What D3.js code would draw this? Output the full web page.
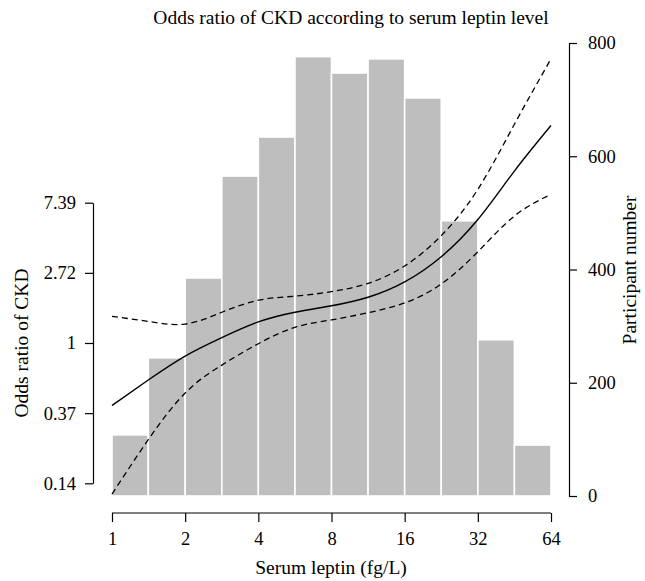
<!DOCTYPE html>
<html>
<head>
<meta charset="utf-8">
<script src="https://cdn.jsdelivr.net/npm/d3@7"></script>
<style>
  body { margin: 0; background: #fff; }
  svg text { font-family: "Liberation Serif", "DejaVu Serif", serif; fill: #000; }
</style>
</head>
<body>
<div id="chart"></div>
<script>
// histogram bins (serum leptin, log2 spaced) and participant counts
const binEdges = [1, 1.41, 2, 2.83, 4, 5.66, 8, 11.31, 16, 22.63, 32, 45.25, 64];
const counts = [108, 244, 385, 565, 634, 776, 747, 772, 703, 486, 276, 90];

// spline fit: leptin grid, odds ratio and 95% CI
const leptin = [1, 1.41, 2, 2.83, 4, 5.66, 8, 11.31, 16, 22.63, 32, 45.25, 64];
const orFit = [0.41, 0.59, 0.83, 1.08, 1.35, 1.55, 1.70, 1.92, 2.39, 3.42, 5.81, 11.6, 22.2];
const orUpper = [1.46, 1.36, 1.31, 1.55, 1.84, 1.95, 2.08, 2.34, 3.00, 4.62, 8.94, 22.6, 57.4];
const orLower = [0.116, 0.252, 0.49, 0.73, 0.99, 1.25, 1.39, 1.54, 1.77, 2.32, 3.67, 6.11, 8.33];

const xTicks = [1, 2, 4, 8, 16, 32, 64];
const orTicks = [Math.exp(-2), Math.exp(-1), 1, Math.exp(1), Math.exp(2)];
const orTickLabels = ['0.14', '0.37', '1', '2.72', '7.39'];
const countTicks = [0, 200, 400, 600, 800];

const width = 645, height = 581;

const svg = d3.select('#chart').append('svg')
    .attr('width', width)
    .attr('height', height);

const x = d3.scaleLog().base(2).domain([1, 64]).range([112, 551]);
const yOR = d3.scaleLog().domain([Math.exp(-2), Math.exp(2)]).range([483.3, 202.7]);
const yN = d3.scaleLinear().domain([0, 800]).range([496, 43]);

// bars
const bins = counts.map((c, i) => ({x0: binEdges[i], x1: binEdges[i + 1], n: c}));
svg.append('g').selectAll('rect')
    .data(bins)
    .join('rect')
    .attr('x', d => x(d.x0))
    .attr('width', d => x(d.x1) - x(d.x0))
    .attr('y', d => yN(d.n))
    .attr('height', d => yN(0) - yN(d.n))
    .attr('fill', '#bebebe')
    .attr('stroke', '#fff')
    .attr('stroke-width', 1.6);

// curves
const line = vals => d3.line()
    .x((d, i) => x(leptin[i]))
    .y(d => yOR(d))
    .curve(d3.curveNatural)(vals);

svg.append('path').attr('d', line(orUpper))
    .attr('fill', 'none').attr('stroke', '#000').attr('stroke-width', 1.3)
    .attr('stroke-dasharray', '6,4');
svg.append('path').attr('d', line(orLower))
    .attr('fill', 'none').attr('stroke', '#000').attr('stroke-width', 1.3)
    .attr('stroke-dasharray', '6,4');
svg.append('path').attr('d', line(orFit))
    .attr('fill', 'none').attr('stroke', '#000').attr('stroke-width', 1.4);

// axes
const tickFont = '18.5px';
const titleFont = '19.5px';

const xAxis = svg.append('g')
    .attr('transform', 'translate(0,513)')
    .call(d3.axisBottom(x).tickValues(xTicks).tickFormat(d3.format('d')).tickSize(9).tickSizeOuter(0));
xAxis.select('.domain').attr('d', `M${x(1)},0H${x(64)}`);

const leftAxis = svg.append('g')
    .attr('transform', 'translate(93,0)')
    .call(d3.axisLeft(yOR).tickValues(orTicks).tickFormat((d, i) => orTickLabels[i])
        .tickSize(8).tickPadding(9).tickSizeOuter(0));

const rightAxis = svg.append('g')
    .attr('transform', 'translate(569,0)')
    .call(d3.axisRight(yN).tickValues(countTicks).tickSize(8).tickPadding(11).tickSizeOuter(0));

svg.selectAll('.tick text').style('font-size', tickFont).style('font-family', '"Liberation Serif", serif');
svg.selectAll('.domain, .tick line').attr('stroke', '#000').attr('stroke-width', 1.2);
xAxis.selectAll('.tick text').attr('dy', '1.1em');

// titles
svg.append('text')
    .attr('x', 351).attr('y', 24)
    .attr('text-anchor', 'middle')
    .style('font-size', titleFont)
    .text('Odds ratio of CKD according to serum leptin level');

svg.append('text')
    .attr('x', 331).attr('y', 574)
    .attr('text-anchor', 'middle')
    .style('font-size', titleFont)
    .text('Serum leptin (fg/L)');

svg.append('text')
    .attr('transform', 'translate(28,343) rotate(-90)')
    .attr('text-anchor', 'middle')
    .style('font-size', titleFont)
    .text('Odds ratio of CKD');

svg.append('text')
    .attr('transform', 'translate(636,270) rotate(-90)')
    .attr('text-anchor', 'middle')
    .style('font-size', titleFont)
    .text('Participant number');
</script>
</body>
</html>
